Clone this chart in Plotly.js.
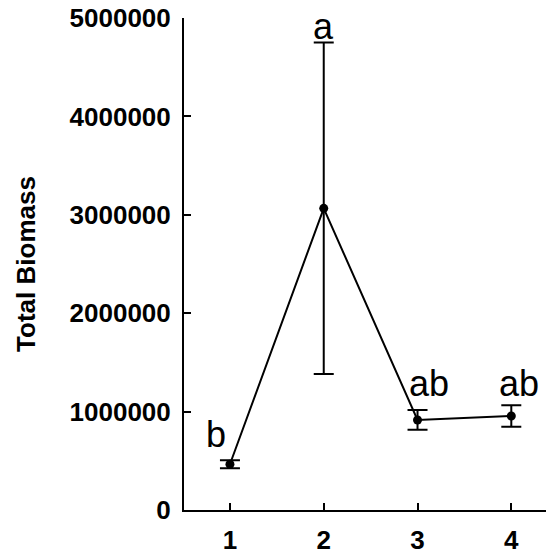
<!DOCTYPE html>
<html><head><meta charset="utf-8">
<script src="https://cdn.plot.ly/plotly-3.0.1.min.js"></script>
<style>html,body{margin:0;padding:0;background:#fff}#chart{width:546px;height:555px}</style>
</head><body><div id="chart"></div>
<script>
const groups = [1, 2, 3, 4];
const biomass = [465000, 3066000, 915000, 955000];
const errors = [40000, 1685000, 100000, 110000];
const letters = ["b", "a", "ab", "ab"];
const yTicks = [0, 1000000, 2000000, 3000000, 4000000, 5000000];

const trace = {
  x: groups, y: biomass, type: 'scatter', mode: 'lines+markers',
  line: {color: '#000', width: 2},
  marker: {color: '#000', size: 9},
  error_y: {type: 'data', array: errors, visible: true, color: '#000', thickness: 2, width: 10},
  hoverinfo: 'none'
};
const letterXShift = [-14, 0, 11, 8];
const letterYShift = [3, -6.5, 4, -1];
const annotations = groups.map((g, i) => ({
  x: g, y: biomass[i] + errors[i], xref: 'x', yref: 'y',
  text: letters[i], showarrow: false, xanchor: 'center', yanchor: 'bottom',
  xshift: letterXShift[i], yshift: letterYShift[i],
  font: {family: 'Liberation Sans, Arial, sans-serif', size: 36, color: '#000'}
}));

const layout = {
  width: 546, height: 555,
  margin: {l: 184, r: 0, t: 18, b: 45, pad: 0},
  paper_bgcolor: '#fff', plot_bgcolor: '#fff',
  showlegend: false,
  font: {family: 'Liberation Sans, Arial, sans-serif', color: '#000'},
  xaxis: {
    range: [0.51, 4.37], tickvals: groups, ticktext: groups.map(String),
    ticks: 'inside', ticklen: 7, tickwidth: 2, tickcolor: '#000',
    showline: true, linecolor: '#000', linewidth: 2, showgrid: false, zeroline: false,
    tickfont: {size: 26, family: 'Liberation Sans, Arial, sans-serif', weight: 'bold'},
    ticklabelstandoff: 6
  },
  yaxis: {
    range: [0, 5000000], tickvals: yTicks, ticktext: yTicks.map(String),
    ticks: 'inside', ticklen: 7, tickwidth: 2, tickcolor: '#000',
    showline: true, linecolor: '#000', linewidth: 2, showgrid: false, zeroline: false,
    tickfont: {size: 26, family: 'Liberation Sans, Arial, sans-serif', weight: 'bold'},
    ticklabelstandoff: 6,
    title: {text: 'Total Biomass', standoff: 26,
      font: {size: 26, family: 'Liberation Sans, Arial, sans-serif', weight: 'bold', color: '#000'}}
  },
  annotations: annotations
};
Plotly.newPlot('chart', [trace], layout, {staticPlot: true, displayModeBar: false});
</script></body></html>
